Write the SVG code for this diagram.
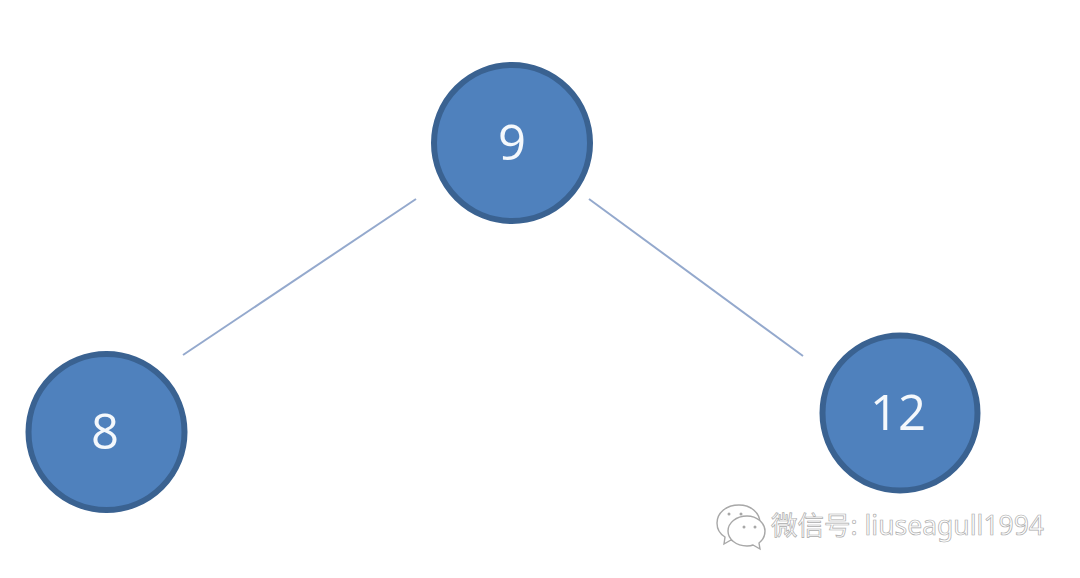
<svg xmlns="http://www.w3.org/2000/svg" width="1080" height="578" viewBox="0 0 1080 578">
<style>
.node{fill:#4f81bd;stroke:#3a6291;stroke-width:6}
.lbl{font-family:"Open Sans","Noto Sans",sans-serif;font-size:49px;fill:#f4f8fc;text-anchor:middle}
.edge{stroke:#94a9cd;stroke-width:2;fill:none}
.wm{font-family:"Noto Sans","Noto Sans CJK SC",sans-serif;font-size:26.500px;fill:#fff;stroke:#a8a8a8;stroke-width:.7;opacity:.95}
.ic{fill:#fff;stroke:#a8a8a8;stroke-width:1.400}
.dot{fill:#a8a8a8}
</style>
<rect width="1080" height="578" fill="#fff"/>
<g id="connectors">
<line class="edge" x1="416" y1="199" x2="183" y2="355"/>
<line class="edge" x1="589" y1="199" x2="803" y2="356"/>
</g>
<g id="node-9"><circle class="node" cx="512" cy="143" r="78"/><text class="lbl" x="512" y="160">9</text></g>
<g id="node-8"><circle class="node" cx="106.500" cy="432" r="78"/><text class="lbl" x="105" y="449">8</text></g>
<g id="node-12"><circle class="node" cx="900" cy="413" r="77.500"/><text class="lbl" x="898" y="430">12</text></g>
<g id="watermark">
<path class="ic" d="M739 505c-13 0-22 8-22 18 0 6 3 11 8 14l-1 7 7-4c2 1 5 1 8 1 12 0 21-8 21-18s-9-18-21-18z"/>
<path class="ic" d="M747 516c-11 0-19 7-19 15s8 15 19 15c2 0 4 0 6-1l7 4-1-6c4-3 6-7 6-12 0-8-8-15-18-15z"/>
<circle class="dot" cx="729" cy="514" r="1.500"/><circle class="dot" cx="741" cy="514" r="1.500"/>
<circle class="dot" cx="744" cy="527" r="1.500"/><circle class="dot" cx="755" cy="527" r="1.500"/>
<text class="wm" x="771" y="535">微信号: liuseagull1994</text>
</g>
</svg>
